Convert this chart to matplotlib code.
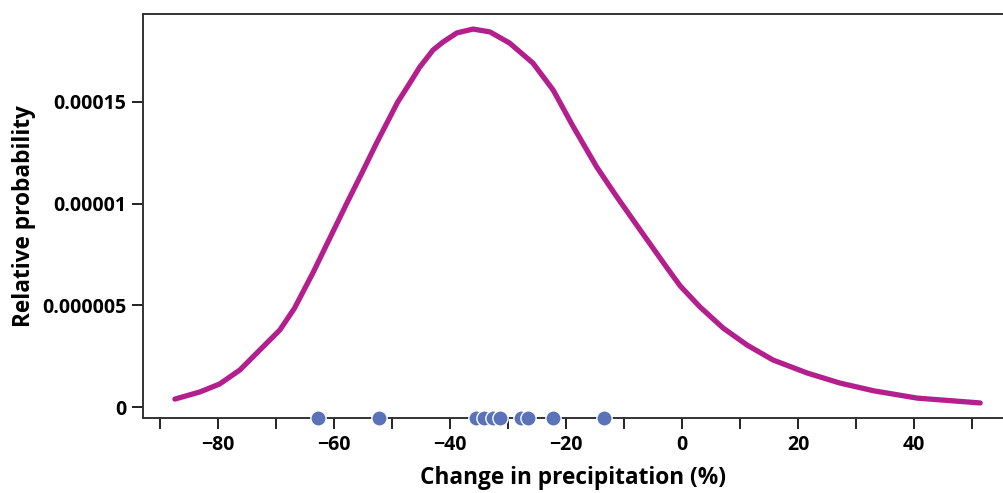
import numpy as np
import matplotlib.pyplot as plt
from matplotlib.ticker import FixedLocator, FixedFormatter, MultipleLocator

plt.rcParams['font.family'] = ['Open Sans', 'DejaVu Sans']

# probability curve (y in units of 1e-6)
change = [-87.4, -83.1, -79.7, -76.2, -73.3, -69.3, -66.8, -63.6, -60.7, -57.8,
          -55.0, -52.6, -49.0, -46.9, -45.2, -42.9, -41.2, -38.8, -36.0, -33.1,
          -29.7, -25.7, -22.2, -18.8, -14.7, -11.2, -7.2, -2.6, -0.3, 3.1,
          7.1, 11.2, 15.7, 21.6, 27.2, 33.0, 40.5, 51.4]
prob = [0.39, 0.74, 1.13, 1.82, 2.65, 3.79, 4.85, 6.60, 8.30, 10.0,
        11.6, 13.0, 14.99, 15.93, 16.71, 17.55, 17.94, 18.39, 18.58, 18.44,
        17.89, 16.91, 15.58, 13.81, 11.80, 10.32, 8.70, 6.85, 5.95, 4.92,
        3.88, 3.05, 2.31, 1.67, 1.18, 0.80, 0.44, 0.20]

# individual model results along the axis
models = [-62.8, -52.2, -35.5, -34.1, -32.6, -31.4, -27.8, -26.6, -22.2, -13.4]

ytick_vals = [0, 5e-6, 1e-5, 1.5e-5]
ytick_labels = ['0', '0.000005', '0.00001', '0.00015']
xtick_vals = [-80, -60, -40, -20, 0, 20, 40]

fig = plt.figure(figsize=(10.04, 4.93), dpi=100)
ax = fig.add_axes([0.1424, 0.1521, 0.8576, 0.8195])

ax.plot(change, np.array(prob) * 1e-6, color='#b41f8e', lw=3.8,
        solid_capstyle='round', solid_joinstyle='round', zorder=3)

ylow = -0.54e-6
ax.plot(models, [ylow] * len(models), 'o', color='#5a72b8', ms=11,
        mec='white', mew=1.0, clip_on=False, zorder=5)

ax.set_xlim(-92.9, 55.5)
ax.set_ylim(ylow, 19.32e-6)

ax.xaxis.set_major_locator(FixedLocator(xtick_vals))
ax.xaxis.set_minor_locator(MultipleLocator(10))
ax.yaxis.set_major_locator(FixedLocator(ytick_vals))
ax.yaxis.set_major_formatter(FixedFormatter(ytick_labels))

ax.tick_params(axis='both', which='both', direction='out', length=8, width=1.4,
               color='#222222')
ax.tick_params(axis='both', which='major', labelsize=14, pad=4)
for lab in ax.get_xticklabels() + ax.get_yticklabels():
    lab.set_fontweight('bold')

ax.spines['right'].set_visible(False)
for s in ['left', 'top', 'bottom']:
    ax.spines[s].set_linewidth(1.4)
    ax.spines[s].set_color('#333333')

ax.set_xlabel('Change in precipitation (%)', fontsize=16.3, fontweight='bold',
              labelpad=8)
ax.set_ylabel('Relative probability', fontsize=16.3, fontweight='bold',
              labelpad=4)

fig.savefig('out.png', dpi=100)
